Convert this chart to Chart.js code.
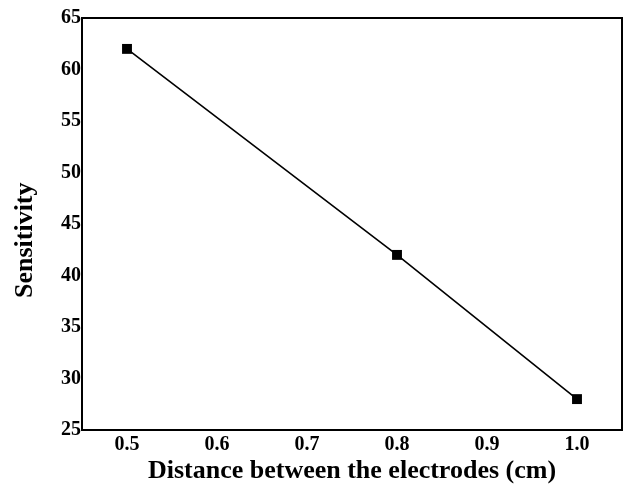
<!DOCTYPE html>
<html>
<head>
<meta charset="utf-8">
<script src="https://cdn.jsdelivr.net/npm/chart.js@4"></script>
<style>
  html, body { margin: 0; padding: 0; background: #fff; }
  #wrap { width: 624px; height: 487px; }
</style>
</head>
<body>
<div id="wrap"><canvas id="chart" width="624" height="487"></canvas></div>
<script>
// data
const distance = [0.5, 0.8, 1.0];
const sensitivity = [62, 42, 28];
const xTicks = [0.5, 0.6, 0.7, 0.8, 0.9, 1.0];
const yTicks = [25, 30, 35, 40, 45, 50, 55, 60, 65];

const serif = "'Liberation Serif', 'Times New Roman', serif";

// black box around the plot area
const frame = {
  id: "frame",
  afterDraw(chart) {
    const { ctx, chartArea: a } = chart;
    ctx.save();
    ctx.strokeStyle = "#000";
    ctx.lineWidth = 2;
    ctx.strokeRect(a.left, a.top, a.right - a.left, a.bottom - a.top);
    ctx.restore();
  },
};

new Chart(document.getElementById("chart"), {
  type: "line",
  data: {
    datasets: [
      {
        data: distance.map((d, i) => ({ x: d, y: sensitivity[i] })),
        borderColor: "#000",
        backgroundColor: "#000",
        borderWidth: 1.6,
        pointStyle: "rect",
        pointRadius: 7,
        pointBorderWidth: 0,
        tension: 0,
      },
    ],
  },
  options: {
    responsive: false,
    animation: false,
    layout: { autoPadding: false, padding: { top: 18, right: 2, left: 0, bottom: 0 } },
    plugins: { legend: { display: false }, tooltip: { enabled: false } },
    scales: {
      x: {
        type: "linear",
        min: 0.45,
        max: 1.05,
        grid: { display: false, drawTicks: false },
        border: { display: false },
        afterBuildTicks: (s) => { s.ticks = xTicks.map((v) => ({ value: v })); },
        afterFit: (s) => { s.height = 57; s.paddingLeft = 0; s.paddingRight = 0; },
        ticks: {
          color: "#000",
          padding: 3,
          font: { family: serif, size: 20, weight: "bold" },
          callback: (v) => Number(v).toFixed(1),
        },
        title: {
          display: true,
          text: "Distance between the electrodes (cm)",
          color: "#000",
          padding: { top: 0, bottom: 0 },
          font: { family: serif, size: 26, weight: "bold" },
        },
      },
      y: {
        min: 25,
        max: 65,
        grid: { display: false, drawTicks: false },
        border: { display: false },
        afterBuildTicks: (s) => { s.ticks = yTicks.map((v) => ({ value: v })); },
        afterFit: (s) => { s.width = 82; s.paddingTop = 0; s.paddingBottom = 0; },
        ticks: {
          color: "#000",
          padding: 1,
          font: { family: serif, size: 20, weight: "bold" },
        },
        title: {
          display: true,
          text: "Sensitivity\u00A0\u00A0\u00A0\u00A0\u00A0",
          color: "#000",
          padding: { top: 10, bottom: 0 },
          font: { family: serif, size: 26, weight: "bold" },
        },
      },
    },
  },
  plugins: [frame],
});
</script>
</body>
</html>
